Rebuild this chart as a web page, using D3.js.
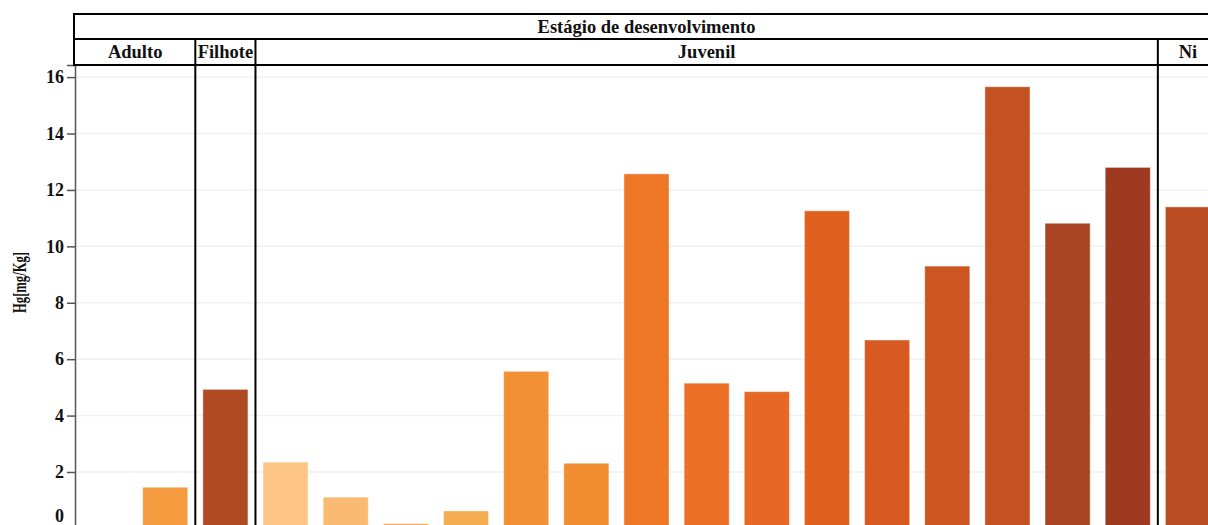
<!DOCTYPE html>
<html lang="pt">
<head>
<meta charset="utf-8">
<script src="https://cdn.jsdelivr.net/npm/d3@7"></script>
<style>
  html, body { margin: 0; padding: 0; background: #fff; overflow: hidden; }
  svg { display: block; }
  text { font-family: "Liberation Serif", "Times New Roman", serif; font-weight: bold; fill: #111; }
</style>
</head>
<body>
<div id="chart"></div>
<script>
// Hg concentration per sample, grouped by developmental stage
const amostras = ["A1","A2","F1","J1","J2","J3","J4","J5","J6","J7","J8","J9","J10","J11","J12","J13","J14","J15","N1"];
const estagios = ["Adulto","Adulto","Filhote","Juvenil","Juvenil","Juvenil","Juvenil","Juvenil","Juvenil","Juvenil","Juvenil","Juvenil","Juvenil","Juvenil","Juvenil","Juvenil","Juvenil","Juvenil","Ni"];
const hg = [0, 1.46, 4.93, 2.35, 1.11, 0.17, 0.62, 5.57, 2.31, 12.57, 5.15, 4.85, 11.26, 6.68, 9.3, 15.66, 10.82, 12.8, 11.4];
const grupos = ["Adulto","Filhote","Juvenil","Ni"];
const yTicks = [0, 2, 4, 6, 8, 10, 12, 14, 16];
const tituloFaceta = "Estágio de desenvolvimento";
const tituloY = "Hg[mg/Kg]";

// fill colours, one per sample, light to dark orange
const paleta = ["#f7a24a","#f59b3f","#b04a23","#fdc585","#fbba72","#f6a74e","#f5ad52","#f39035","#f28c31",
                "#ee7627","#ec7025","#e66824","#e06020","#d85a22","#cc5522","#c45221","#a84424","#9e3a20","#bc4c22"];

const W = 1208, H = 525;
const mLeft = 75, mRight = 1218, mTop = 65, mBottom = 528.4;
const headTop = 14, headMid = 39;

const svg = d3.select("#chart").append("svg")
  .attr("width", W).attr("height", H);

const x = d3.scaleBand().domain(amostras).range([mLeft, mRight])
  .paddingInner(0.25).paddingOuter(0.125);
const y = d3.scaleLinear().domain([0, 16.43]).range([mBottom, mTop]);
const cor = d3.scaleOrdinal().domain(amostras).range(paleta);

// horizontal grid
svg.append("g").selectAll("line").data(yTicks).join("line")
  .attr("x1", mLeft).attr("x2", mRight)
  .attr("y1", d => y(d)).attr("y2", d => y(d))
  .attr("stroke", "#f1f1f1").attr("stroke-width", 1.5);

// bars
const dados = amostras.map((id, i) => ({ id, estagio: estagios[i], hg: hg[i] }));
svg.append("g").selectAll("rect").data(dados).join("rect")
  .attr("x", d => x(d.id))
  .attr("width", x.bandwidth())
  .attr("y", d => y(d.hg))
  .attr("height", d => y(0) - y(d.hg))
  .attr("fill", d => cor(d.id))
  .attr("stroke", "rgba(255,255,255,0.45)")
  .attr("stroke-width", 1);

// facet extents from the band positions
const passo = x.step();
const x0 = x.range()[0];
const faixas = grupos.map(g => {
  const idx = estagios.map((e, i) => e === g ? i : -1).filter(i => i >= 0);
  return { g, a: x0 + d3.min(idx) * passo, b: x0 + (d3.max(idx) + 1) * passo };
});

// y axis
const yAxis = svg.append("g").attr("transform", `translate(${mLeft},0)`)
  .call(d3.axisLeft(y).tickValues(yTicks).tickSize(8).tickPadding(3).tickFormat(d3.format("d")));
yAxis.select(".domain").attr("stroke", "#555").attr("stroke-width", 1.5);
yAxis.selectAll(".tick line").attr("stroke", "#555").attr("stroke-width", 1.5);
yAxis.selectAll(".tick text").attr("font-size", 18).attr("fill", "#111")
  .style("font-family", "'Liberation Serif', serif").style("font-weight", "bold");
// the bottom label sits just above the lower edge of the frame
yAxis.selectAll(".tick").filter(d => d === 0).select("text")
  .attr("y", -2).attr("dy", "-0.1em").attr("transform", `translate(0,${H - y(0)})`);

// facet dividers through the plot
svg.append("g").selectAll("line").data(faixas.slice(1)).join("line")
  .attr("x1", d => d.a).attr("x2", d => d.a)
  .attr("y1", headMid).attr("y2", H + 10)
  .attr("stroke", "#000").attr("stroke-width", 2);

// header strips
const head = svg.append("g");
head.append("rect").attr("x", mLeft - 1).attr("y", headTop)
  .attr("width", mRight - mLeft + 1).attr("height", mTop - headTop)
  .attr("fill", "none").attr("stroke", "#000").attr("stroke-width", 2);
head.append("line").attr("x1", mLeft - 1).attr("x2", mRight)
  .attr("y1", headMid).attr("y2", headMid)
  .attr("stroke", "#000").attr("stroke-width", 2);
head.append("text")
  .attr("x", (mLeft + mRight) / 2).attr("y", (headTop + headMid) / 2 + 6)
  .attr("text-anchor", "middle").attr("font-size", 18.5)
  .text(tituloFaceta);
head.selectAll("text.grp").data(faixas).join("text").attr("class", "grp")
  .attr("x", d => (d.a + d.b) / 2).attr("y", (headMid + mTop) / 2 + 6)
  .attr("text-anchor", "middle").attr("font-size", 18.5)
  .text(d => d.g);

// y title
svg.append("text")
  .attr("transform", `translate(26,282.5) rotate(-90)`)
  .attr("text-anchor", "middle").attr("font-size", 18)
  .attr("textLength", 61).attr("lengthAdjust", "spacingAndGlyphs")
  .text(tituloY);
</script>
</body>
</html>
